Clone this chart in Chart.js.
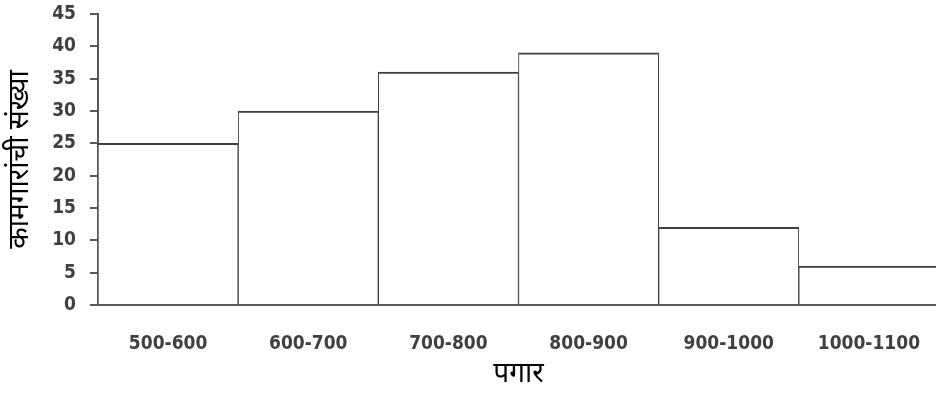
<!DOCTYPE html>
<html>
<head>
<meta charset="utf-8">
<script src="https://cdn.jsdelivr.net/npm/chart.js@4/dist/chart.umd.min.js"></script>
<style>
  html, body { margin: 0; padding: 0; background: #fff; overflow: hidden; }
  #wrap { width: 941px; height: 393px; position: relative; }
</style>
</head>
<body>
<div id="wrap"><canvas id="myChart"></canvas></div>
<script>
// salary ranges and number of workers
var categories = ["500-600", "600-700", "700-800", "800-900", "900-1000", "1000-1100"];
var workers = [25, 30, 36, 39, 12, 6];
var xTitle = "पगार";
var yTitle = "कामगारांची संख्या";

var tickFont = { family: "'DejaVu Sans Condensed', 'DejaVu Sans', sans-serif", size: 19, weight: "bold" };
var titleFont = { family: "'Noto Sans', sans-serif", size: 28 };

var ctx = document.getElementById("myChart");

var myChart = new Chart(ctx, {
  type: "bar",
  data: {
    labels: categories,
    datasets: [{
      data: workers,
      backgroundColor: "#ffffff",
      borderColor: "#404040",
      borderWidth: { top: 2, left: 1, right: 1, bottom: 0 },
      borderSkipped: false,
      barPercentage: 1,
      categoryPercentage: 1
    }]
  },
  options: {
    responsive: true,
    maintainAspectRatio: false,
    animation: false,
    layout: { padding: { top: 14, right: 2, left: 0, bottom: 0 } },
    plugins: {
      legend: { display: false },
      tooltip: { enabled: false }
    },
    scales: {
      x: {
        grid: { display: false },
        border: { display: true, color: "#595959", width: 2 },
        ticks: { color: "#404040", font: tickFont, padding: 20, maxRotation: 0 },
        title: { display: true, text: xTitle, color: "#000", font: titleFont, padding: { top: 0, bottom: 2 } },
        afterFit: function(scale) {
          scale.height = 88;
          scale.paddingLeft = 0;
          scale.paddingRight = 0;
        }
      },
      y: {
        min: 0,
        max: 45,
        grid: { display: true, drawOnChartArea: false, drawTicks: true, tickLength: 8, color: "#595959", lineWidth: 2 },
        border: { display: true, color: "#595959", width: 2 },
        ticks: { stepSize: 5, color: "#404040", font: tickFont, padding: 14 },
        title: { display: true, text: yTitle, color: "#000", font: titleFont, padding: { top: 3, bottom: 0 } },
        afterFit: function(scale) {
          scale.width = 98;
          scale.paddingTop = 0;
          scale.paddingBottom = 0;
        }
      }
    }
  }
});
</script>
</body>
</html>
